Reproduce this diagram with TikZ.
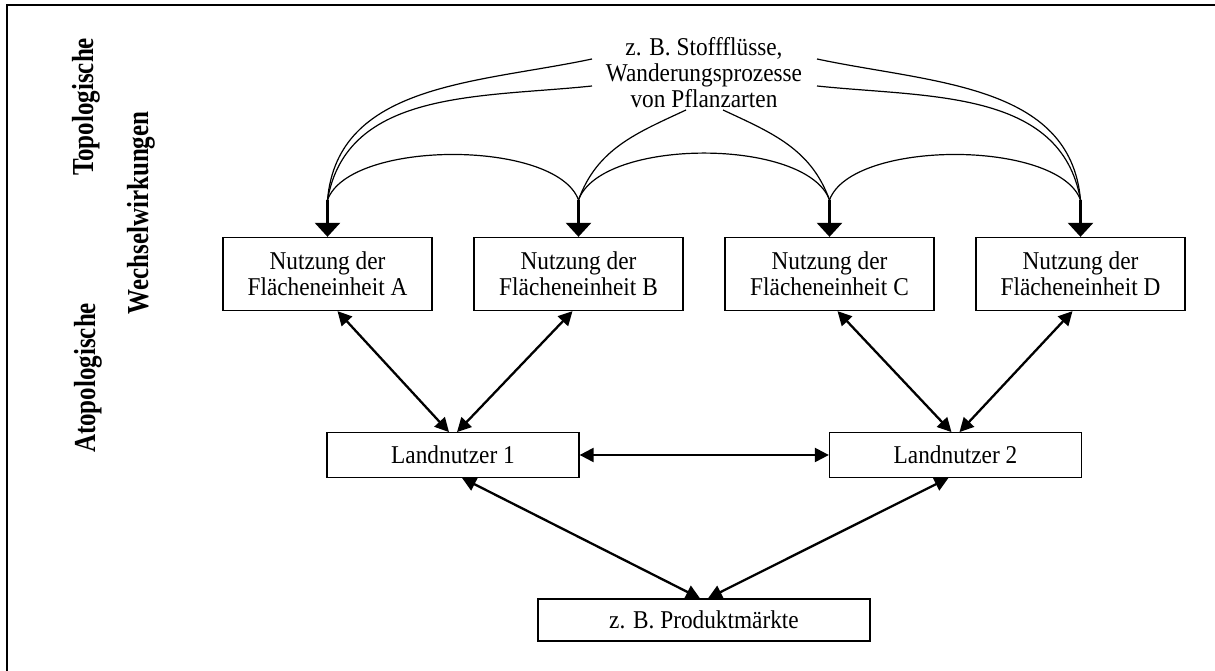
\documentclass[tikz,border=0pt]{standalone}
\usepackage{fontspec}
\setmainfont{Liberation Serif}
\usetikzlibrary{arrows.meta,calc}

% one line of text, set slightly taller than wide
\newcommand{\tall}[1]{\scalebox{1}[1.1]{#1}}
% bold side label, stretched across its line
\newcommand{\sidetext}[1]{\scalebox{1}[1.22]{\bfseries #1}}

\begin{document}
\begin{tikzpicture}[x=1pt,y=1pt,
  txt/.style={font=\fontsize{23.3}{26}\selectfont, align=center, inner sep=0pt},
  unitbox/.style={txt, draw, line width=1.3pt, minimum width=209pt, minimum height=73pt},
  userbox/.style={txt, draw, line width=1.3pt, minimum width=252pt, minimum height=44.5pt},
  marketbox/.style={txt, draw, line width=1.3pt, minimum width=332pt, minimum height=42pt},
  sidelabel/.style={font=\fontsize{25}{29}\selectfont, rotate=90, inner sep=0pt},
  flow/.style={line width=1.2pt},
  stem/.style={line width=2.8pt, -{Triangle[width=25pt,length=14pt]}},
  link/.style={line width=2.3pt, {Triangle[width=14pt,length=14pt]}-{Triangle[width=14pt,length=14pt]}}]

\useasboundingbox (0,0) rectangle (1215,671);

% frame (top and left edges)
\draw[line width=2pt] (7,0) -- (7,666) -- (1215,666);

% side labels
\node[sidelabel] (topo) at (86,564) {\sidetext{Topologische}};
\node[sidelabel] (wech) at (141,458) {\sidetext{Wechselwirkungen}};
\node[sidelabel] (atopo) at (88,293) {\sidetext{Atopologische}};

% flows between the land units
\node[txt] (flows) at (704,598) {\tall{z. B. Stoffflüsse,}\\\tall{Wanderungsprozesse}\\\tall{von Pflanzarten}};

% land units
\node[unitbox] (A) at (327.5,397) {\tall{Nutzung der}\\\tall{Flächeneinheit A}};
\node[unitbox] (B) at (578.5,397) {\tall{Nutzung der}\\\tall{Flächeneinheit B}};
\node[unitbox] (C) at (829.5,397) {\tall{Nutzung der}\\\tall{Flächeneinheit C}};
\node[unitbox] (D) at (1080.5,397) {\tall{Nutzung der}\\\tall{Flächeneinheit D}};

% land users and markets
\node[userbox] (L1) at (453,216) {\tall{Landnutzer 1}};
\node[userbox] (L2) at (955.5,216) {\tall{Landnutzer 2}};
\node[marketbox] (P) at (704,51) {\tall{z. B. Produktmärkte}};

% junctions above the land units
\coordinate (jA) at (327.5,471);
\coordinate (jB) at (578.5,471);
\coordinate (jC) at (829.5,471);
\coordinate (jD) at (1080.5,471);

% start points of the flow curves next to the text
\coordinate (tl1) at (592,612);
\coordinate (tl2) at (592,585);
\coordinate (tr1) at (817,612);
\coordinate (tr2) at (817,585);
\coordinate (tb1) at (686,561);
\coordinate (tb2) at (723,561);

% curves from the text
\draw[flow] (tl1) to[out=192,in=85] (jA);
\draw[flow] (tl2) to[out=186,in=80] (jA);
\draw[flow] (tr1) to[out=-12,in=95] (jD);
\draw[flow] (tr2) to[out=-6,in=100] (jD);
\draw[flow] (tb1) to[out=205,in=70] (jB);
\draw[flow] (tb2) to[out=-25,in=110] (jC);

% arcs between neighbouring junctions
\draw[flow] (jA) to[out=70,in=110,looseness=0.66] (jB);
\draw[flow] (jB) to[out=70,in=110,looseness=0.68] (jC);
\draw[flow] (jC) to[out=70,in=110,looseness=0.66] (jD);

% stems into the land units
\draw[stem] (jA) -- (A.north);
\draw[stem] (jB) -- (B.north);
\draw[stem] (jC) -- (C.north);
\draw[stem] (jD) -- (D.north);

% links between units, users and markets
\draw[link] ($(A.south)+(10,0)$) -- ($(L1.north)+(-4,0)$);
\draw[link] ($(B.south)+(-6,0)$) -- ($(L1.north)+(4,0)$);
\draw[link] ($(C.south)+(8,0)$) -- ($(L2.north)+(-4,0)$);
\draw[link] ($(D.south)+(-8,0)$) -- ($(L2.north)+(4,0)$);
\draw[link] (L1.east) -- (L2.west);
\draw[link] ($(L1.south)+(9,0)$) -- ($(P.north)+(-4,0)$);
\draw[link] ($(L2.south)+(-7,0)$) -- ($(P.north)+(4,0)$);

\end{tikzpicture}
\end{document}
